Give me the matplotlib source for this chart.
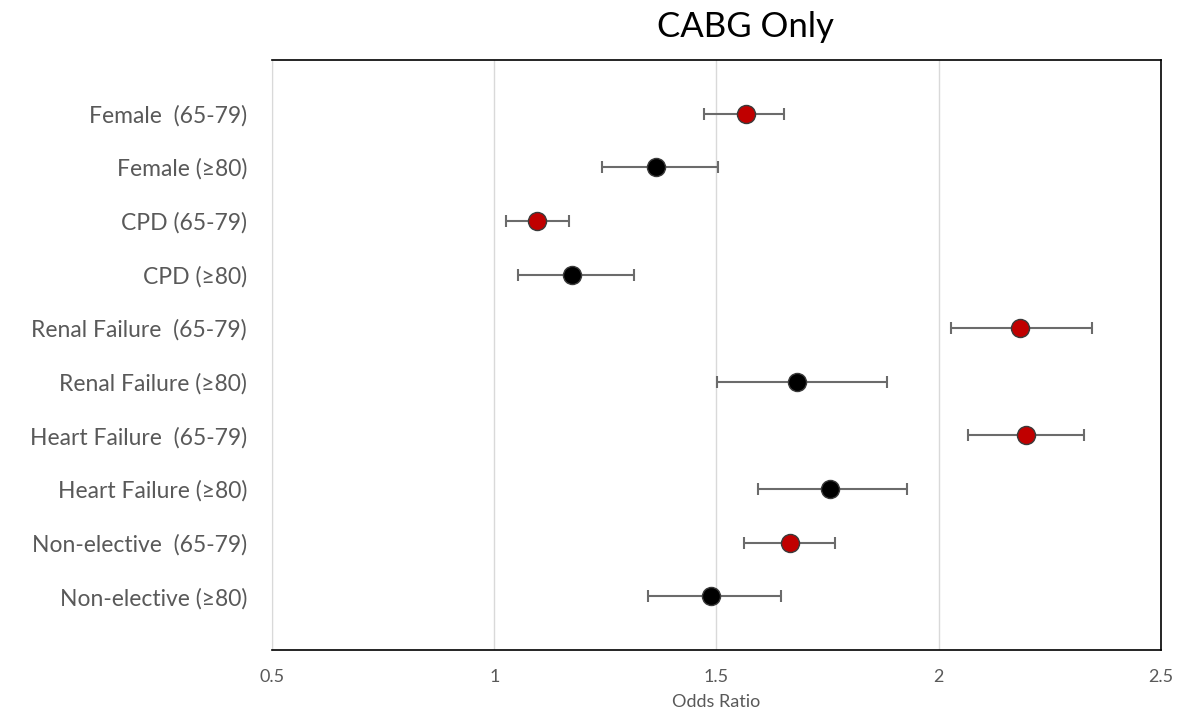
import matplotlib.pyplot as plt
import numpy as np

labels = ['Female  (65-79)', 'Female (\u226580)', 'CPD (65-79)', 'CPD (\u226580)',
          'Renal Failure  (65-79)', 'Renal Failure (\u226580)',
          'Heart Failure  (65-79)', 'Heart Failure (\u226580)',
          'Non-elective  (65-79)', 'Non-elective (\u226580)']
odds = [1.566, 1.364, 1.096, 1.175, 2.183, 1.681, 2.196, 1.755, 1.665, 1.488]
ci_low = [1.472, 1.242, 1.026, 1.053, 2.028, 1.501, 2.066, 1.593, 1.562, 1.346]
ci_high = [1.652, 1.503, 1.168, 1.314, 2.345, 1.884, 2.327, 1.929, 1.767, 1.645]
is_young = [True, False] * 5

plt.rcParams['font.family'] = ['Lato', 'DejaVu Sans']

fig = plt.figure(figsize=(11.82, 7.15), dpi=100)
ax = fig.add_axes([0.2301, 0.0909, 0.7521, 0.8252])

odds = np.array(odds)
y = np.arange(len(labels), 0, -1)
err = np.array([odds - np.array(ci_low), np.array(ci_high) - odds])

ax.errorbar(odds, y, xerr=err, fmt='none', ecolor='#6b6b6b', elinewidth=1.5,
            capsize=4, capthick=1.5, zorder=2)
for xi, yi, young in zip(odds, y, is_young):
    ax.plot(xi, yi, 'o', markersize=13, markerfacecolor='#c00000' if young else 'black',
            markeredgecolor='#3a3a3a', markeredgewidth=1, zorder=3)

ax.set_xlim(0.5, 2.5)
ax.set_ylim(0, len(labels) + 1)
ax.set_xticks([0.5, 1, 1.5, 2, 2.5])
ax.set_xticklabels(['0.5', '1', '1.5', '2', '2.5'])
ax.set_yticks(y)
ax.set_yticklabels(labels)
ax.tick_params(axis='y', length=0, labelsize=16.5, labelcolor='#595959', pad=18)
ax.tick_params(axis='x', length=0, labelsize=13, labelcolor='#595959', pad=14)
ax.xaxis.grid(True, color='#d9d9d9', linewidth=1)
ax.set_axisbelow(True)

for side in ['top', 'right', 'bottom']:
    ax.spines[side].set_color('black')
    ax.spines[side].set_linewidth(1.2)
ax.spines['left'].set_color('#d9d9d9')

ax.set_xlabel('Odds Ratio', fontsize=13, color='#595959', labelpad=6)
fig.text(0.631, 0.962, 'CABG Only', ha='center', va='center', fontsize=25, color='black')

fig.savefig('out.png', dpi=100)
